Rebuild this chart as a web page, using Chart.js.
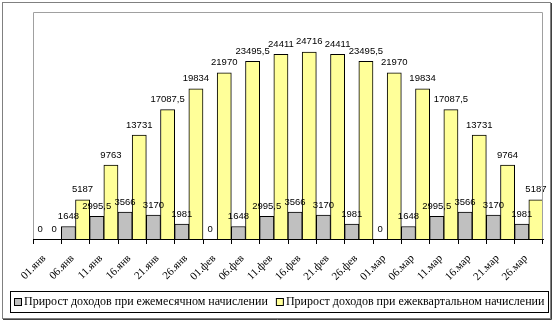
<!DOCTYPE html>
<html>
<head>
<meta charset="utf-8">
<script src="https://cdn.jsdelivr.net/npm/chart.js@4/dist/chart.umd.min.js"></script>
<style>
  html, body { margin: 0; padding: 0; background: #fff; }
  #wrap { width: 554px; height: 325px; }
</style>
</head>
<body>
<div id="wrap"><canvas id="chart" width="554" height="325"></canvas></div>
<script>
const dates = ["01.янв", "06.янв", "11.янв", "16.янв", "21.янв", "26.янв",
               "01.фев", "06.фев", "11.фев", "16.фев", "21.фев", "26.фев",
               "01.мар", "06.мар", "11.мар", "16.мар", "21.мар", "26.мар"];
const monthly = [0, 1648, 2995.5, 3566, 3170, 1981,
                 0, 1648, 2995.5, 3566, 3170, 1981,
                 0, 1648, 2995.5, 3566, 3170, 1981];
const quarterly = [0, 5187, 9763, 13731, 17087.5, 19834,
                   21970, 23495.5, 24411, 24716, 24411, 23495.5,
                   21970, 19834, 17087.5, 13731, 9764, 5187];
const seriesNames = ["Прирост доходов при ежемесячном начислении",
                     "Прирост доходов при ежеквартальном начислении"];
const seriesColors = ["#c0c0c0", "#ffff99"];

// value labels above bars, comma as decimal separator
const valueLabels = {
    id: "valueLabels",
    afterDatasetsDraw(chart) {
        const ctx = chart.ctx;
        ctx.save();
        ctx.font = "9.5px 'Liberation Sans', Arial, sans-serif";
        ctx.fillStyle = "#000";
        ctx.textAlign = "center";
        ctx.textBaseline = "alphabetic";
        chart.data.datasets.forEach((ds, di) => {
            chart.getDatasetMeta(di).data.forEach((bar, i) => {
                const txt = String(ds.data[i]).replace(".", ",");
                ctx.fillText(txt, bar.x, bar.y - 7.5);
            });
        });
        ctx.restore();
    }
};

// frames and the boxed legend
const frames = {
    id: "frames",
    afterDraw(chart) {
        const ctx = chart.ctx;
        const a = chart.chartArea;
        ctx.save();
        ctx.lineWidth = 1;
        // plot area
        ctx.strokeStyle = "#a0a0a0";
        ctx.beginPath();
        ctx.moveTo(a.left + 0.5, a.bottom);
        ctx.lineTo(a.left + 0.5, a.top + 0.5);
        ctx.lineTo(a.right - 0.5, a.top + 0.5);
        ctx.lineTo(a.right - 0.5, a.bottom);
        ctx.stroke();
        // outer frame
        ctx.strokeStyle = "#808080";
        ctx.strokeRect(2.5, 2.5, 548, 316);
        ctx.strokeStyle = "#404040";
        ctx.beginPath();
        ctx.moveTo(551.5, 3);
        ctx.lineTo(551.5, 319.5);
        ctx.lineTo(3, 319.5);
        ctx.stroke();
        // legend
        ctx.strokeStyle = "#000";
        ctx.strokeRect(10.5, 291.5, 538, 21);
        ctx.font = "12px 'Liberation Serif', 'Times New Roman', serif";
        ctx.textBaseline = "middle";
        ctx.textAlign = "left";
        let x = 14;
        const y = 302;
        seriesNames.forEach((name, i) => {
            ctx.fillStyle = seriesColors[i];
            ctx.fillRect(x + 0.5, y - 3.5, 7, 7);
            ctx.strokeStyle = "#000";
            ctx.strokeRect(x + 0.5, y - 3.5, 7, 7);
            ctx.fillStyle = "#000";
            ctx.fillText(name, x + 10, y);
            x += 10 + ctx.measureText(name).width + 8;
        });
        ctx.restore();
    }
};

new Chart(document.getElementById("chart"), {
    type: "bar",
    data: {
        labels: dates,
        datasets: [
            { label: seriesNames[0], data: monthly, backgroundColor: seriesColors[0],
              borderColor: "#000", borderWidth: 1 },
            { label: seriesNames[1], data: quarterly, backgroundColor: seriesColors[1],
              borderColor: "#000", borderWidth: 1 }
        ]
    },
    options: {
        responsive: false,
        animation: false,
        layout: { padding: { left: 33, right: 11, top: 12, bottom: 40 } },
        datasets: { bar: { categoryPercentage: 1, barPercentage: 1 } },
        plugins: { legend: { display: false }, tooltip: { enabled: false } },
        scales: {
            y: { display: false, min: 0, max: 30000 },
            x: {
                offset: true,
                grid: { display: true, offset: true, drawOnChartArea: false, tickLength: 5, color: "#000" },
                border: { display: true, color: "#000" },
                ticks: {
                    autoSkip: false, minRotation: 45, maxRotation: 45, padding: 8, labelOffset: -3,
                    color: "#000", font: { family: "'Liberation Serif', 'Times New Roman', serif", size: 11 }
                },
                afterFit(scale) {
                    scale.height = 46;
                    scale.paddingLeft = 0;
                    scale.paddingRight = 0;
                }
            }
        }
    },
    plugins: [valueLabels, frames]
});
</script>
</body>
</html>
